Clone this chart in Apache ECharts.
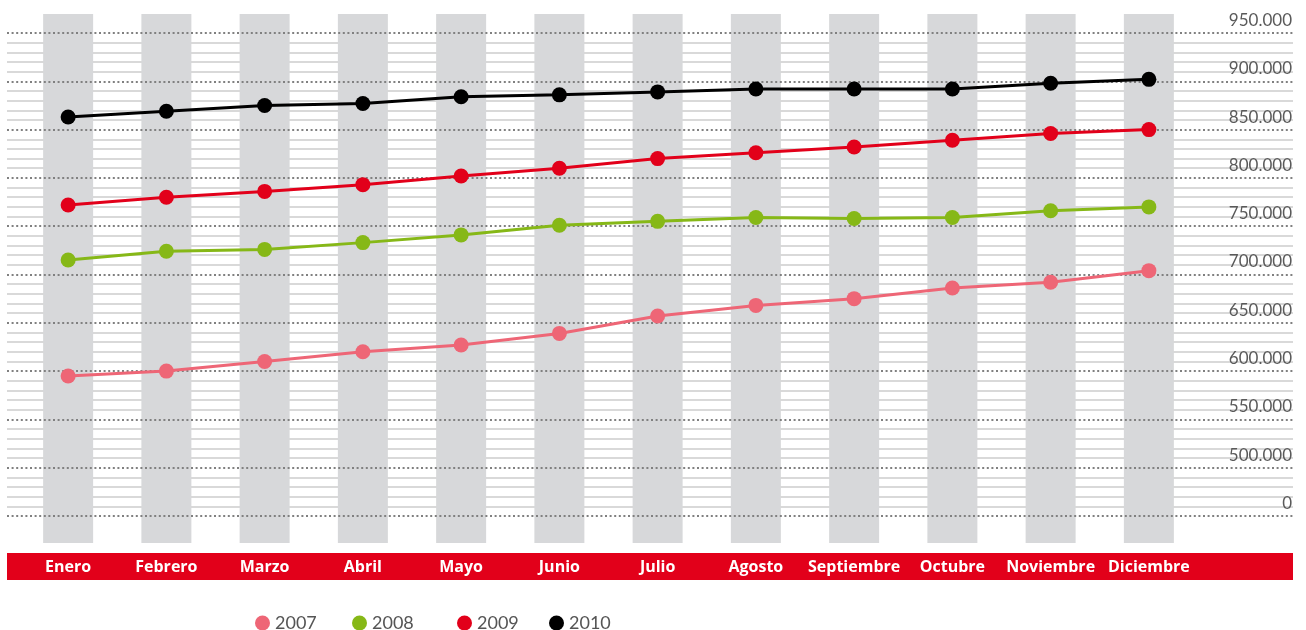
<!DOCTYPE html>
<html>
<head>
<meta charset="utf-8">
<script src="https://cdn.jsdelivr.net/npm/echarts@6/dist/echarts.min.js"></script>
<style>
html,body{margin:0;padding:0;background:#fff;}
#chart{width:1306px;height:630px;}
</style>
</head>
<body>
<div id="chart"></div>
<script>
var months = ['Enero','Febrero','Marzo','Abril','Mayo','Junio','Julio','Agosto','Septiembre','Octubre','Noviembre','Diciembre'];
var years = ['2007','2008','2009','2010'];
var s2007 = [595000, 600000, 610000, 620000, 627000, 639000, 657000, 668000, 675000, 686000, 692000, 704000];
var s2008 = [715000, 724000, 726000, 733000, 741000, 751000, 755000, 759000, 758000, 759000, 766000, 770000];
var s2009 = [772000, 780000, 786000, 793000, 802000, 810000, 820000, 826000, 832000, 839000, 846000, 850000];
var s2010 = [863000, 869000, 875000, 877000, 884000, 886000, 889000, 892000, 892000, 892000, 898000, 902000];
var yTickLabels = ['0','500.000','550.000','600.000','650.000','700.000','750.000','800.000','850.000','900.000','950.000'];
var colors = ['#ee6676','#86b817','#e2001a','#000000'];

// broken axis: 0 .. (gap) .. 500.000 ; values >= 500.000 mapped to v - 450.000
var BREAK = 450000;
function toAxis(arr){ return arr.map(function(v){ return v - BREAK; }); }
var seriesValues = [s2007, s2008, s2009, s2010];

var chart = echarts.init(document.getElementById('chart'));
var lineSeries = seriesValues.map(function(arr, i){
  return {
    name: years[i], type: 'line', xAxisIndex: 1, yAxisIndex: 3,
    data: toAxis(arr), symbol: 'circle', symbolSize: 15, z: 5,
    lineStyle: {width: 3, color: colors[i]},
    itemStyle: {color: colors[i]},
    emphasis: {disabled: true}, animation: false
  };
});
var legendLefts = [250, 347, 452, 544];
var legends = years.map(function(y, i){
  return {
    data: [y], left: legendLefts[i], top: 609, icon: 'circle',
    itemWidth: 15, itemHeight: 15, itemGap: 0, selectedMode: false,
    textStyle: {fontSize: 18, color: '#555', fontFamily: 'Lato', fontWeight: 'normal'}
  };
});

chart.setOption({
  animation: false,
  grid: [
    {left: 7, right: 13, top: 33, height: 483},
    {left: 19, width: 1179, top: 14, height: 529},
    {left: 19, width: 1179, top: 33, height: 483}
  ],
  graphic: {elements: [
    {type: 'rect', shape: {x: 7, y: 553, width: 1286, height: 27}, style: {fill: '#e2001a'}, z: -10}
  ]},
  legend: legends,
  xAxis: [
    {gridIndex: 1, type: 'category', data: months, show: false},
    {gridIndex: 2, type: 'category', data: months, boundaryGap: true,
     axisLine: {show: false}, axisTick: {show: false}, splitLine: {show: false},
     axisLabel: {margin: 51, verticalAlign: 'middle', color: '#fff', fontSize: 16, fontWeight: 'bold', fontFamily: 'Open Sans', interval: 0}},
    {gridIndex: 0, type: 'value', show: false}
  ],
  yAxis: [
    {gridIndex: 0, type: 'value', min: 0, max: 500000, interval: 50000, position: 'right', z: -5,
     axisLine: {show: false}, axisTick: {show: false}, axisLabel: {show: false},
     splitLine: {show: false},
     minorTick: {show: false, splitNumber: 5},
     minorSplitLine: {show: true, lineStyle: {color: '#d9d9d9', width: 2}}},
    {gridIndex: 0, type: 'value', min: 0, max: 500000, interval: 50000, position: 'right', z: 1,
     axisLine: {show: false}, axisTick: {show: false},
     splitLine: {show: true, lineStyle: {color: '#808080', width: 2, type: [2, 2.6]}},
     axisLabel: {inside: true, margin: 1, verticalAlign: 'bottom', padding: [0, 0, 4, 0],
       color: '#5a5a5a', fontSize: 17, fontFamily: 'Lato', fontWeight: 'normal',
       formatter: function(v){ return yTickLabels[Math.round(v / 50000)]; }}},
    {gridIndex: 1, type: 'value', min: 0, max: 1, show: false},
    {gridIndex: 2, type: 'value', min: 0, max: 500000, show: false}
  ],
  series: [
    {type: 'bar', xAxisIndex: 0, yAxisIndex: 2, data: months.map(function(){ return 1; }),
     barWidth: 50, itemStyle: {color: '#d7d8da'}, z: -1, silent: true, animation: false}
  ].concat(lineSeries)
});
</script>
</body>
</html>
